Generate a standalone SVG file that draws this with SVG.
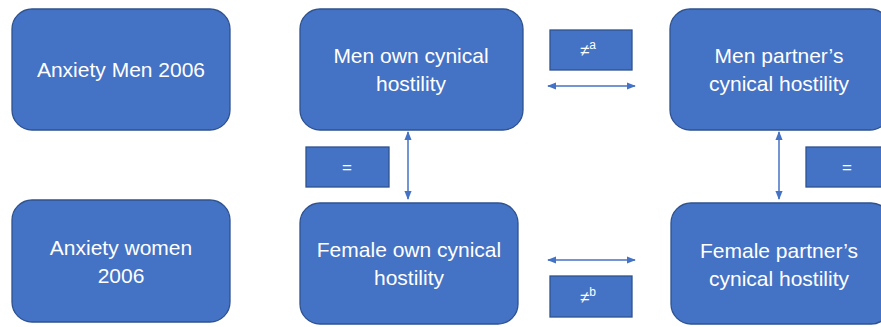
<svg xmlns="http://www.w3.org/2000/svg" width="881" height="327" viewBox="0 0 881 327">
<style>
.node{fill:#4472C4;stroke:#2F528F;stroke-width:1.3}
.lbl{fill:#4472C4;stroke:#2F528F;stroke-width:1.3}
.t{font-family:"Liberation Sans",Arial,sans-serif;font-size:21px;fill:#ffffff;text-anchor:middle}
.s{font-family:"Liberation Sans",Arial,sans-serif;font-size:17px;fill:#ffffff;text-anchor:middle}
.c{stroke:#4472C4;stroke-width:1.5;fill:none;marker-start:url(#ah);marker-end:url(#ah)}
</style>
<defs>
<marker id="ah" viewBox="0 0 10 10" refX="9" refY="5" markerWidth="6" markerHeight="6" orient="auto-start-reverse" markerUnits="strokeWidth">
<path d="M0,1 L10,5 L0,9 z" fill="#4472C4"/>
</marker>
</defs>
<rect width="881" height="327" fill="#ffffff"/>
<g id="connectors">
<line class="c" x1="548" y1="86" x2="635" y2="86"/>
<line class="c" x1="548" y1="260" x2="635" y2="260"/>
<line class="c" x1="408" y1="132" x2="408" y2="199"/>
<line class="c" x1="779" y1="132" x2="779" y2="199"/>
</g>
<g id="anxiety-men">
<rect class="node" x="12" y="9" width="218" height="121" rx="20"/>
<text class="t" x="121" y="77">Anxiety Men 2006</text>
</g>
<g id="men-own">
<rect class="node" x="300" y="9" width="223" height="121" rx="20"/>
<text class="t" x="411" y="63">Men own cynical</text>
<text class="t" x="411" y="91">hostility</text>
</g>
<g id="men-partner">
<rect class="node" x="670" y="9" width="220" height="121" rx="20"/>
<text class="t" x="779" y="63">Men partner’s</text>
<text class="t" x="779" y="91">cynical hostility</text>
</g>
<g id="anxiety-women">
<rect class="node" x="12" y="200" width="218" height="122" rx="20"/>
<text class="t" x="121" y="255">Anxiety women</text>
<text class="t" x="121" y="283">2006</text>
</g>
<g id="female-own">
<rect class="node" x="300" y="203" width="218" height="121" rx="20"/>
<text class="t" x="409" y="257">Female own cynical</text>
<text class="t" x="409" y="285">hostility</text>
</g>
<g id="female-partner">
<rect class="node" x="671" y="203" width="220" height="121" rx="20"/>
<text class="t" x="779" y="258">Female partner’s</text>
<text class="t" x="779" y="286">cynical hostility</text>
</g>
<g id="label-neq-a">
<rect class="lbl" x="550" y="30" width="82" height="40"/>
<text class="s" x="588" y="56">≠<tspan font-size="12px" dy="-7">a</tspan></text>
</g>
<g id="label-neq-b">
<rect class="lbl" x="550" y="276" width="82" height="41"/>
<text class="s" x="588" y="303">≠<tspan font-size="12px" dy="-7">b</tspan></text>
</g>
<g id="label-eq-left">
<rect class="lbl" x="306" y="147" width="83" height="40"/>
<text class="s" x="347" y="173">=</text>
</g>
<g id="label-eq-right">
<rect class="lbl" x="806" y="147" width="83" height="40"/>
<text class="s" x="847" y="173">=</text>
</g>
</svg>
